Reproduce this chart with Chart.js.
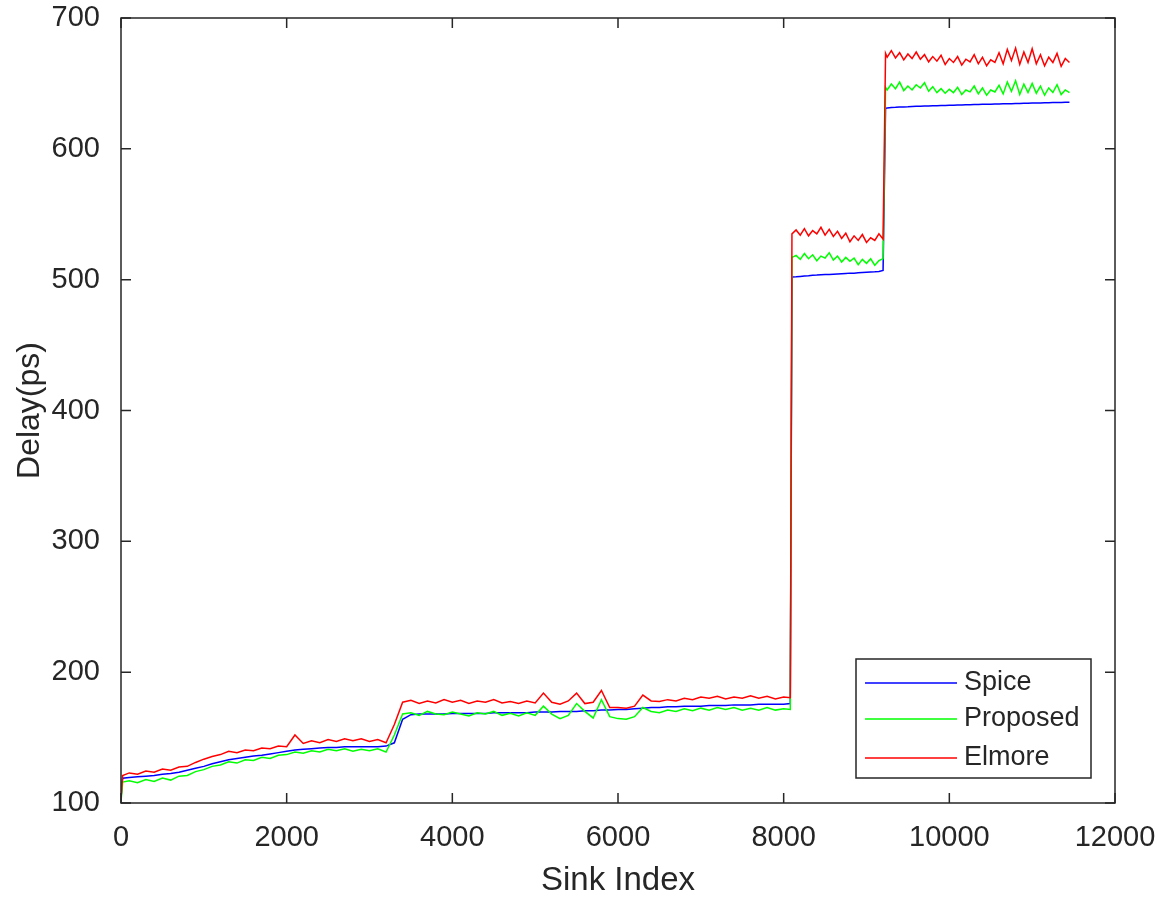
<!DOCTYPE html>
<html>
<head>
<meta charset="utf-8">
<script src="https://cdn.jsdelivr.net/npm/chart.js@4.4.1/dist/chart.umd.min.js"></script>
<style>
  html, body { margin: 0; padding: 0; background: #fff; }
  #wrap { width: 1166px; height: 901px; }
</style>
</head>
<body>
<div id="wrap"><canvas id="delayChart" width="1166" height="901"></canvas></div>
<script>
const sinkIdx = [
  0, 20, 100, 200, 300, 400, 500, 600, 700, 800,
  900, 1000, 1100, 1200, 1300, 1400, 1500, 1600, 1700, 1800,
  1900, 2000, 2100, 2200, 2300, 2400, 2500, 2600, 2700, 2800,
  2900, 3000, 3100, 3200, 3300, 3400, 3500, 3600, 3700, 3800,
  3900, 4000, 4100, 4200, 4300, 4400, 4500, 4600, 4700, 4800,
  4900, 5000, 5100, 5200, 5300, 5400, 5500, 5600, 5700, 5800,
  5900, 6000, 6100, 6200, 6300, 6400, 6500, 6600, 6700, 6800,
  6900, 7000, 7100, 7200, 7300, 7400, 7500, 7600, 7700, 7800,
  7900, 8000, 8080,
  8100, 8150, 8200, 8250, 8300, 8350, 8400, 8450, 8500, 8550,
  8600, 8650, 8700, 8750, 8800, 8850, 8900, 8950, 9000, 9050,
  9100, 9150, 9200, 9230, 9250, 9300, 9350, 9400, 9450, 9500,
  9550, 9600, 9650, 9700, 9750, 9800, 9850, 9900, 9950, 10000,
  10050, 10100, 10150, 10200, 10250, 10300, 10350, 10400, 10450, 10500,
  10550, 10600, 10650, 10700, 10750, 10800, 10850, 10900, 10950, 11000,
  11050, 11100, 11150, 11200, 11250, 11300, 11350, 11400, 11450
];

const spice = [
  104, 119, 119.5, 120, 120.5, 121, 122, 122.5, 123.5, 125,
  126.5, 128, 130, 131.5, 133, 134, 135, 136, 136.5, 137.5,
  138.5, 139.5, 140.5, 141, 141.5, 142, 142.5, 142.5, 143, 143,
  143, 143, 143, 143.5, 146, 164, 167.5, 168, 168, 168,
  168, 168.5, 168.5, 168.5, 168.5, 168.5, 169, 169, 169, 169,
  169, 169.5, 169.5, 169.5, 170, 170, 170, 170.5, 170.5, 171,
  171, 171.5, 171.5, 172, 172.5, 173, 173, 173.5, 173.5, 174,
  174, 174, 174.5, 174.5, 174.5, 175, 175, 175, 175.5, 175.5,
  175.5, 175.5, 176,
  502, 502.2, 502.5, 502.8, 503, 503.3, 503.5, 503.8, 504, 504,
  504.2, 504.4, 504.6, 504.8, 505, 505, 505.2, 505.4, 505.6, 505.8,
  506, 506.3, 507, 631, 631.2, 631.5, 631.7, 632, 632, 632.1,
  632.3, 632.5, 632.6, 632.7, 632.8, 633, 633, 633.1, 633.2, 633.3,
  633.4, 633.5, 633.5, 633.6, 633.7, 633.8, 633.9, 634, 634, 634.1,
  634.2, 634.3, 634.4, 634.5, 634.5, 634.6, 634.7, 634.8, 634.9, 635,
  635, 635.1, 635.2, 635.3, 635.4, 635.5, 635.5, 635.6, 635.7
];

const proposed = [
  101, 116, 117, 115.5, 118, 116.5, 119, 117.5, 120.5, 121,
  124, 125.5, 128, 129, 131.5, 130.5, 133, 132.5, 135, 134,
  136.5, 137, 139, 138, 140, 139, 141, 140, 141.5, 139.5,
  141, 140, 141.5, 139, 152, 168, 169, 167, 170, 168,
  167.5, 169.5, 168, 166.5, 169, 168, 170, 167, 168.5, 166.5,
  169, 167, 174, 168, 164.5, 167, 176, 170, 165, 179,
  166, 164.5, 164, 166, 173, 170, 169, 171, 170, 172,
  170.5, 172.5, 171, 173, 171.5, 173, 171, 172.5, 171, 173,
  171, 172, 171.5,
  517, 518.5, 515.5, 520, 516, 519, 514.5, 518, 516.5, 520.5,
  515, 518, 513.5, 517, 514, 516.5, 511.5, 515.5, 512.5, 516,
  511, 514.5, 516, 647, 645, 649.5, 646, 651, 644.5, 648,
  645, 649, 646.5, 650.5, 644, 647.5, 643, 646, 642.5, 645.5,
  643, 647, 641.5, 645, 643.5, 648, 642, 646.5, 641, 645,
  643.5, 648.5, 642, 651, 644, 652, 641.5, 649.5, 643, 650,
  642.5, 648, 641, 646.5, 643, 649, 641.5, 645, 643
];

const elmore = [
  103, 121, 123, 122, 124.5, 123.5, 126, 125, 127.5, 128,
  131, 133.5, 135.5, 137, 139.5, 138.5, 140.5, 140, 142, 141.5,
  143.5, 143, 152, 145.5, 147.5, 146, 148.5, 147, 149, 147.5,
  149, 147, 148.5, 146, 160, 177, 178.5, 176, 178, 176.5,
  179, 177, 178.5, 176, 178, 177, 179, 176.5, 177.5, 176,
  178, 176.5, 184, 177, 175.5, 178, 184, 176, 177, 186,
  173, 173, 172.5, 174, 182.5, 178, 177.5, 179, 178, 180,
  179, 181, 180, 181.5, 179.5, 181, 180, 182, 180, 181.5,
  179.5, 181, 180.5,
  535, 538, 534, 539, 533.5, 537.5, 535, 540, 534, 538.5,
  533, 537, 531.5, 535.5, 529, 533.5, 530, 534.5, 528.5, 532,
  530, 535, 531, 673, 670, 675, 669.5, 673.5, 668, 672.5,
  669, 674, 668.5, 672, 666.5, 670.5, 667, 671.5, 664.5, 669,
  666, 670.5, 664, 668.5, 666.5, 672, 665, 670, 663.5, 668,
  666, 673.5, 665, 676, 667.5, 677, 664.5, 674, 666, 676.5,
  665, 672, 663.5, 670, 666, 673, 663, 669, 666
];

const seriesNames = ['Spice', 'Proposed', 'Elmore'];
const seriesColors = ['#0000ff', '#00ff00', '#ff0000'];

const axisColor = '#262626';
const fontFamily = "'Liberation Sans', Arial, Helvetica, sans-serif";

function toPoints(values) {
  return sinkIdx.map((x, i) => ({ x: x, y: values[i] }));
}

// MATLAB-like box, inward ticks and legend inside the axes
const matlabBox = {
  id: 'matlabBox',
  afterDatasetsDraw(chart) {
    const { ctx, chartArea: a, scales } = chart;
    const tick = 10;
    ctx.save();
    ctx.strokeStyle = axisColor;
    ctx.lineWidth = 1.5;
    ctx.strokeRect(a.left, a.top, a.right - a.left, a.bottom - a.top);
    ctx.beginPath();
    scales.x.ticks.forEach(t => {
      const px = scales.x.getPixelForValue(t.value);
      ctx.moveTo(px, a.bottom); ctx.lineTo(px, a.bottom - tick);
      ctx.moveTo(px, a.top); ctx.lineTo(px, a.top + tick);
    });
    scales.y.ticks.forEach(t => {
      const py = scales.y.getPixelForValue(t.value);
      ctx.moveTo(a.left, py); ctx.lineTo(a.left + tick, py);
      ctx.moveTo(a.right, py); ctx.lineTo(a.right - tick, py);
    });
    ctx.stroke();

    // legend
    const w = 235, h = 119;
    const x0 = a.right - 24 - w;
    const y0 = a.bottom - 25 - h;
    ctx.fillStyle = '#ffffff';
    ctx.fillRect(x0, y0, w, h);
    ctx.strokeRect(x0, y0, w, h);
    const rows = [24, 60, 99];
    ctx.font = '27px ' + fontFamily;
    ctx.textBaseline = 'middle';
    ctx.textAlign = 'left';
    chart.data.datasets.forEach((ds, i) => {
      const yy = y0 + rows[i];
      ctx.strokeStyle = ds.borderColor;
      ctx.lineWidth = 1.5;
      ctx.beginPath();
      ctx.moveTo(x0 + 9, yy);
      ctx.lineTo(x0 + 101, yy);
      ctx.stroke();
      ctx.fillStyle = axisColor;
      ctx.fillText(ds.label, x0 + 108, yy);
    });
    ctx.restore();
  }
};

const ctx = document.getElementById('delayChart').getContext('2d');
new Chart(ctx, {
  type: 'line',
  data: {
    datasets: [
      { label: seriesNames[0], data: toPoints(spice), borderColor: seriesColors[0], order: 2 },
      { label: seriesNames[1], data: toPoints(proposed), borderColor: seriesColors[1], order: 1 },
      { label: seriesNames[2], data: toPoints(elmore), borderColor: seriesColors[2], order: 0 }
    ]
  },
  options: {
    responsive: false,
    animation: false,
    events: [],
    datasets: {
      line: { borderWidth: 1.5, pointRadius: 0, tension: 0, fill: false }
    },
    layout: { padding: { left: 0, top: 18, right: 51, bottom: 0 } },
    plugins: {
      legend: { display: false },
      tooltip: { enabled: false }
    },
    scales: {
      x: {
        type: 'linear',
        min: 0,
        max: 12000,
        grid: { display: false },
        border: { display: false },
        ticks: {
          stepSize: 2000,
          padding: 10,
          color: axisColor,
          maxRotation: 0,
          callback: v => String(v),
          font: { family: fontFamily, size: 29 }
        },
        title: {
          display: true,
          text: 'Sink Index',
          color: axisColor,
          padding: { top: 0, bottom: 0 },
          font: { family: fontFamily, size: 33 }
        },
        afterFit(scale) {
          scale.height = 98;
          scale.paddingLeft = 0;
          scale.paddingRight = 0;
        }
      },
      y: {
        min: 100,
        max: 700,
        grid: { display: false },
        border: { display: false },
        ticks: {
          stepSize: 100,
          padding: 13,
          color: axisColor,
          callback: v => String(v),
          font: { family: fontFamily, size: 29 }
        },
        title: {
          display: true,
          text: 'Delay(ps)',
          color: axisColor,
          padding: { top: 11, bottom: 0 },
          font: { family: fontFamily, size: 32 }
        },
        afterFit(scale) {
          scale.width = 121;
          scale.paddingTop = 0;
          scale.paddingBottom = 0;
        }
      }
    }
  },
  plugins: [matlabBox]
});
</script>
</body>
</html>
